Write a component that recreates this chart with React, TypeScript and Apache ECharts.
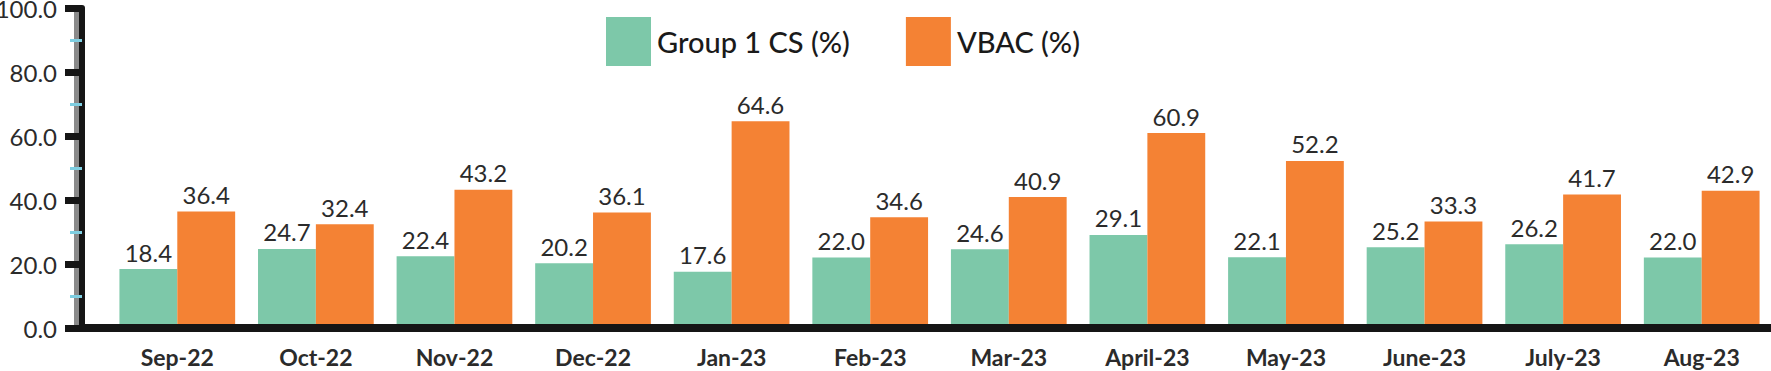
import React, { useEffect, useRef } from "react";
import * as echarts from "echarts";

const categories = ["Sep-22", "Oct-22", "Nov-22", "Dec-22", "Jan-23", "Feb-23", "Mar-23", "April-23", "May-23", "June-23", "July-23", "Aug-23"];
const group1CS = [18.4, 24.7, 22.4, 20.2, 17.6, 22.0, 24.6, 29.1, 22.1, 25.2, 26.2, 22.0];
const vbac = [36.4, 32.4, 43.2, 36.1, 64.6, 34.6, 40.9, 60.9, 52.2, 33.3, 41.7, 42.9];
const seriesNames = ["Group 1 CS (%)", "VBAC (%)"];

const GREEN = "#7dc8a9";
const ORANGE = "#f48234";
const FONT = "Lato";

export default function App() {
  const ref = useRef<HTMLDivElement>(null);
  useEffect(() => {
    const chart = echarts.init(ref.current!, null, { renderer: "svg" });
    const label = {
      show: true,
      position: "top",
      distance: 5,
      fontFamily: FONT,
      fontSize: 24,
      color: "#2b2b2b",
      formatter: (p: any) => Number(p.value).toFixed(1),
    };
    chart.setOption({
      animation: false,
      textStyle: { fontFamily: FONT },
      legend: {
        left: 601,
        top: 12,
        itemWidth: 45,
        itemHeight: 49,
        itemGap: 56,
        icon: "rect",
        textStyle: { fontFamily: FONT, fontSize: 29, fontWeight: 500, color: "#1a1a1a", padding: [0, 0, 0, 1] },
        data: seriesNames,
      },
      grid: { left: 108, right: 0, top: 8, bottom: 43, containLabel: false, outerBoundsMode: "none" },
      xAxis: {
        type: "category",
        data: categories,
        axisLine: { show: false },
        axisTick: { show: false },
        axisLabel: { fontFamily: FONT, fontSize: 23, fontWeight: 700, color: "#2b2b2b", margin: 17 },
      },
      yAxis: {
        type: "value",
        min: 0,
        max: 100,
        interval: 20,
        offset: 26,
        splitLine: { show: false },
        axisLine: { show: true, lineStyle: { color: "#151515", width: 6 } },
        axisTick: { show: true, length: 17, lineStyle: { color: "#151515", width: 7 } },
        minorTick: { show: true, splitNumber: 2, length: 12, lineStyle: { color: "#7fcfe2", width: 3 } },
        axisLabel: {
          fontFamily: FONT,
          fontSize: 24,
          color: "#2b2b2b",
          margin: 25,
          formatter: (v: number) => v.toFixed(1),
        },
      },
      graphic: [
        { type: "rect", left: 74, top: 9, shape: { width: 5, height: 322 }, style: { fill: "#8a8a8a" }, z: 0 },
        { type: "rect", left: 79, top: 324, shape: { width: 1692, height: 8 }, style: { fill: "#151515" }, z: 10 },
      ],
      series: [
        {
          name: seriesNames[0],
          type: "bar",
          data: group1CS,
          itemStyle: { color: GREEN },
          barGap: "0%",
          barCategoryGap: "16.5%",
          label,
        },
        {
          name: seriesNames[1],
          type: "bar",
          data: vbac,
          itemStyle: { color: ORANGE },
          barGap: "0%",
          barCategoryGap: "16.5%",
          label,
        },
      ],
    });
    return () => chart.dispose();
  }, []);
  return <div ref={ref} style={{ width: 1771, height: 371, position: "absolute", left: 0, top: 0 }} />;
}
